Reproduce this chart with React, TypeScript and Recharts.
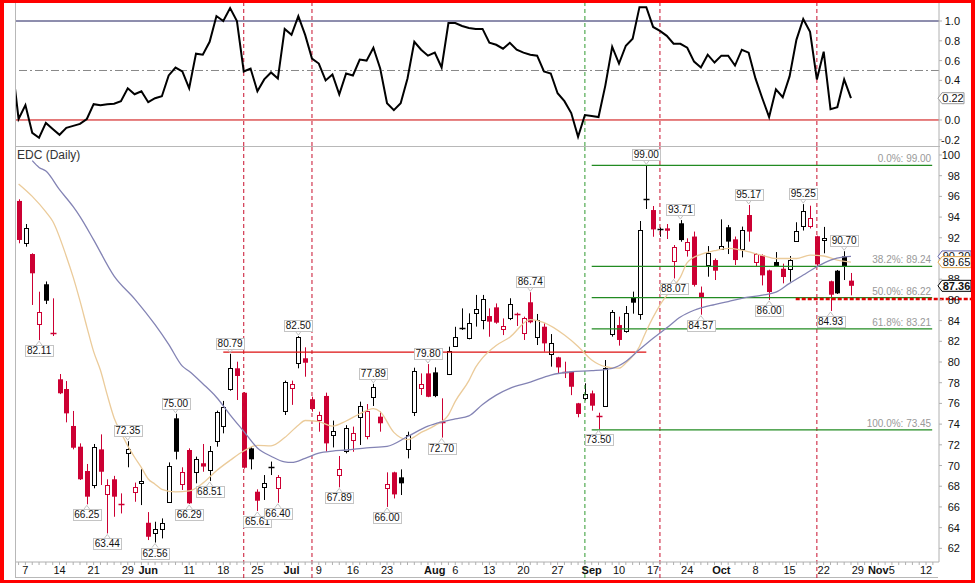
import React from "react";
import {
  ComposedChart,
  Line,
  Bar,
  XAxis,
  YAxis,
  ReferenceLine,
  ReferenceDot,
} from "recharts";

const RED = "#CC0033";
const FONT = "'Liberation Sans', Arial, sans-serif";

// x axis is the trading-day index, 0 = Fri 4 May 2012
const X_MIN = -0.38;
const X_MAX = 134.9;

const opens = [
  95.56, 91.47, 90.43, 83.74, 87.51, 82.85, 78.33, 77.39, 73.82, 71.82,
  69.47, 68.09, 71.56, 67.22, 68.67, 66.3, 71.17, 67.47, 68.3, 64.47,
  63.45, 63.92, 66.5, 74.56, 68.28, 71.5, 69.35, 70.22, 69.57, 72.3,
  73.82, 77.39, 79.39, 77.03, 71.66, 67.47, 67.89, 69.75, 67.8, 75.27,
  77.46, 79.95, 80.36, 76.4, 74.4, 76.72, 73.02, 69.08, 71.41, 72.47,
  74.72, 72.85, 76.56, 74.72, 67.79, 69.34, 68.86, 71.56, 75.2, 77.46,
  78.9, 79.0, 74.25, 78.9, 81.6, 83.2, 82.38, 84.7, 84.0, 84.44,
  85.28, 83.16, 84.21, 84.6, 82.77, 85.77, 82.38, 83.41, 80.77, 80.45,
  79.0, 79.06, 76.01, 76.49, 76.97, 74.75, 75.78, 82.77, 83.57, 83.03,
  86.21, 84.67, 95.6, 94.68, 92.78, 92.91, 89.75, 93.4, 90.82, 92.12,
  86.7, 89.43, 89.85, 90.98, 93.02, 91.85, 90.89, 94.2, 89.66, 90.3,
  88.85, 89.66, 89.01, 88.95, 91.73, 93.15, 93.1, 92.15, 91.82, 87.8,
  88.82, 90.21, 87.86,
];
const highs = [
  95.72, 93.33, 90.5, 86.79, 87.78, 86.15, 78.84, 78.16, 75.27, 72.14,
  70.15, 72.08, 73.01, 68.67, 69.0, 67.31, 72.35, 68.35, 69.64, 65.5,
  64.57, 64.89, 70.3, 75.0, 69.83, 71.66, 70.86, 72.08, 71.88, 75.3,
  76.24, 80.79, 80.03, 77.1, 71.75, 67.7, 69.08, 70.38, 69.08, 78.2,
  78.2, 82.5, 81.42, 76.65, 75.2, 77.04, 74.34, 70.92, 73.9, 73.76,
  76.17, 75.94, 77.89, 75.21, 69.34, 69.4, 69.63, 73.27, 79.45, 78.9,
  79.8, 79.48, 76.49, 81.48, 83.4, 85.18, 84.7, 86.48, 86.48, 85.18,
  85.66, 84.21, 86.16, 84.77, 84.38, 86.74, 84.64, 83.74, 82.7, 80.5,
  80.03, 79.1, 76.05, 77.94, 77.24, 75.1, 80.19, 85.02, 84.38, 85.41,
  86.8, 93.62, 99.0, 95.07, 93.0, 93.33, 91.3, 93.71, 91.95, 92.6,
  87.29, 91.2, 90.0, 93.78, 93.24, 92.12, 93.08, 95.17, 90.53, 90.4,
  88.92, 90.62, 89.5, 90.24, 93.5, 95.25, 95.1, 92.2, 93.05, 87.86,
  88.89, 90.7, 88.6,
];
const lows = [
  91.47, 91.14, 85.51, 82.11, 85.6, 82.51, 76.9, 74.17, 71.56, 68.6,
  66.25, 67.8, 68.12, 63.44, 65.05, 65.37, 69.83, 66.5, 66.18, 62.8,
  62.56, 62.96, 66.45, 70.59, 67.64, 66.29, 68.28, 69.4, 68.51, 71.82,
  73.11, 77.23, 76.33, 69.7, 69.63, 65.61, 66.67, 69.08, 66.4, 74.88,
  75.86, 79.39, 78.58, 75.2, 73.27, 71.34, 71.75, 67.89, 71.18, 71.33,
  71.98, 72.53, 75.75, 73.27, 66.0, 66.82, 67.15, 70.69, 74.78, 76.81,
  76.6, 76.6, 72.7, 78.74, 81.55, 83.09, 82.19, 83.42, 83.16, 82.44,
  83.7, 82.6, 84.05, 83.48, 82.13, 83.74, 81.64, 81.0, 79.55, 78.9,
  78.45, 76.8, 74.66, 76.3, 75.3, 73.5, 75.75, 82.45, 81.58, 82.83,
  84.67, 84.09, 94.78, 92.1, 92.1, 91.88, 88.07, 91.62, 90.18, 87.29,
  84.57, 88.24, 87.92, 90.82, 90.43, 89.37, 90.11, 91.63, 89.18, 87.4,
  86.0, 89.18, 87.6, 87.76, 91.6, 92.7, 92.9, 89.27, 90.5, 84.93,
  86.57, 87.92, 86.44,
];
const closes = [
  91.79, 92.92, 88.57, 84.86, 85.92, 82.7, 76.98, 75.04, 71.72, 68.67,
  66.99, 71.76, 69.4, 68.12, 66.99, 66.15, 71.56, 67.96, 68.5, 63.12,
  63.86, 64.47, 69.99, 71.33, 69.4, 66.35, 70.63, 69.9, 71.4, 75.14,
  75.62, 79.39, 78.65, 69.79, 70.6, 66.6, 68.28, 69.82, 68.86, 78.1,
  77.85, 82.45, 79.93, 75.46, 74.88, 72.14, 73.37, 69.63, 73.6, 73.11,
  75.78, 75.3, 77.56, 74.08, 68.18, 67.21, 68.28, 72.95, 79.16, 77.84,
  76.64, 76.71, 74.15, 81.09, 82.44, 83.25, 83.8, 85.09, 86.06, 83.9,
  83.8, 83.48, 85.57, 84.5, 84.22, 83.84, 84.06, 81.8, 81.87, 79.48,
  78.95, 77.61, 74.98, 76.88, 75.78, 74.65, 79.45, 84.86, 82.13, 84.77,
  85.73, 92.75, 95.7, 92.81, 92.82, 92.68, 91.14, 91.78, 91.63, 87.45,
  86.25, 90.56, 88.82, 91.24, 91.63, 89.85, 92.76, 92.6, 90.4, 88.37,
  86.76, 89.24, 88.21, 89.85, 92.7, 94.57, 93.9, 89.43, 91.99, 86.5,
  86.63, 89.18, 87.36,
];

// oscillator, first value belongs to index -1 (just off the left edge)
const oscillator = [
  0.6,
  0.01, 0.15, -0.13, -0.18, -0.03, -0.09, -0.15, -0.08, -0.06, -0.04,
  0.01, 0.16, 0.15, 0.16, 0.165, 0.19, 0.32, 0.26, 0.29, 0.18,
  0.22, 0.24, 0.45, 0.53, 0.49, 0.32, 0.67, 0.66, 0.79, 1.05,
  1.0, 1.13, 1.0, 0.49, 0.52, 0.29, 0.41, 0.48, 0.42, 0.92,
  0.86, 1.05, 0.86, 0.62, 0.57, 0.4, 0.46, 0.26, 0.47, 0.45,
  0.61, 0.6, 0.73, 0.52, 0.17, 0.1, 0.17, 0.42, 0.79, 0.71,
  0.65, 0.68, 0.53, 0.98, 0.98, 0.95, 0.93, 0.92, 0.92, 0.78,
  0.76, 0.72, 0.78, 0.71, 0.68, 0.66, 0.65, 0.49, 0.47, 0.27,
  0.19, 0.07, -0.17, 0.05, 0.04, 0.03, 0.35, 0.74, 0.57, 0.75,
  0.82, 1.14, 1.14, 0.94, 0.9, 0.85, 0.77, 0.77, 0.73, 0.59,
  0.53, 0.66, 0.58, 0.65, 0.65, 0.55, 0.71, 0.68, 0.42, 0.22,
  0.03, 0.31, 0.23, 0.44, 0.81, 1.02, 0.89, 0.41, 0.69, 0.11,
  0.13, 0.41, 0.22,
];

// moving averages, read at some days: [day, value]
const maFastPoints: [number, number][] = [
  [0, 97.2], [2, 96.0], [4, 94.5], [5, 93.6], [7, 90.2], [8, 88.2], [9, 85.9],
  [10, 83.4], [11, 81.0], [12, 79.2], [13, 76.8], [14, 74.6], [15, 73.2],
  [16, 71.9], [17, 70.8], [18, 69.8], [19, 68.7], [20, 68.2], [21, 67.7],
  [23, 67.45], [25, 67.55], [27, 68.3], [29, 69.5], [31, 70.5], [33, 71.4],
  [35, 71.95], [37, 71.9], [39, 72.7], [41, 73.9], [42, 74.35], [44, 74.25],
  [46, 73.8], [48, 74.3], [50, 75.0], [52, 75.5], [53, 75.2], [55, 73.2],
  [57, 72.5], [59, 73.2], [61, 73.85], [63, 74.9], [64, 76.2], [66, 78.2],
  [67, 79.5], [68, 80.4], [70, 81.6], [72, 82.4], [75, 84.1], [77, 83.8],
  [80, 82.6], [82, 81.5], [84, 80.2], [86, 79.55], [88, 79.4], [89, 79.9],
  [91, 81.5], [92, 83.0], [94, 85.5], [96, 87.3], [97, 88.2], [98, 89.6],
  [100, 90.4], [102, 90.75], [104, 90.98], [106, 90.8], [109, 90.3],
  [111, 90.0], [114, 90.0], [116, 90.33], [118, 90.24], [120, 89.85],
  [122, 89.65],
];
const maSlowPoints: [number, number][] = [
  [2, 99.45], [3, 98.8], [4, 98.45], [6, 96.65], [8, 95.0], [9, 94.05],
  [11, 91.8], [14, 88.3], [17, 86.1], [20, 83.6], [22, 81.7], [24, 79.6],
  [25, 79.1], [27, 77.9], [29, 76.6], [31, 74.9], [33, 73.3], [35, 71.7],
  [37, 70.9], [39, 70.35], [40, 70.3], [42, 70.7], [44, 71.2], [46, 71.4],
  [48, 71.5], [51, 71.7], [54, 71.85], [57, 72.8], [60, 73.8], [62, 74.2],
  [64, 74.5], [66, 74.8], [68, 75.9], [70, 76.8], [72, 77.45], [75, 78.05],
  [78, 78.74], [81, 79.06], [84, 79.16], [87, 79.39], [89, 80.05], [91, 81.2],
  [93, 82.3], [95, 83.3], [97, 84.35], [99, 85.0], [102, 85.55], [104, 85.83],
  [106, 86.15], [109, 86.45], [111, 86.75], [113, 87.6], [115, 88.4],
  [117, 89.2], [119, 89.85], [121, 90.15], [122, 90.2],
];

const tickDays = [1, 6, 11, 16, 19, 25, 30, 35, 40, 44, 49, 54, 61, 64, 69, 74, 79, 84, 88, 93, 98, 103, 108, 113, 118, 123, 126, 128, 133];
const tickLabels = ["7", "14", "21", "29", "Jun", "11", "18", "25", "Jul", "9", "16", "23", "Aug", "6", "13", "20", "27", "Sep", "10", "17", "24", "Oct", "8", "15", "22", "29", "Nov", "5", "12"];

// 90 and 0.2 sit fully behind the value tags, so they are left out
const priceTicks = [62, 64, 66, 68, 70, 72, 74, 76, 78, 80, 82, 84, 86, 88, 92, 94, 96, 98, 100];
const oscTicks = [-0.2, 0, 0.4, 0.6, 0.8, 1.0];

const redMarkers = [33, 43, 94, 117];
const greenMarkers = [83];

const fibLevels = [99.0, 89.24, 86.22, 83.21, 73.45];
const fibNames = ["0.0%", "38.2%", "50.0%", "61.8%", "100.0%"];

const noteDays = [3, 31, 41, 10, 13, 16, 20, 23, 25, 28, 35, 38, 47, 52, 54, 60, 62, 75, 85, 92, 97, 96, 100, 107, 110, 115, 121, 119];
const noteValues = [82.11, 80.79, 82.5, 66.25, 63.44, 72.35, 62.56, 75.0, 66.29, 68.51, 65.61, 66.4, 67.89, 77.89, 66.0, 79.8, 72.7, 86.74, 73.5, 99.0, 93.71, 88.07, 84.57, 95.17, 86.0, 95.25, 90.7, 84.93];
const noteBelow = [true, false, false, true, true, false, true, false, true, true, true, true, true, false, true, false, true, false, true, false, false, true, true, false, true, false, false, true];

const fastMap = new Map(maFastPoints);
const slowMap = new Map(maSlowPoints);
const rows = closes.map((c, i) => ({
  i,
  o: opens[i],
  h: highs[i],
  l: lows[i],
  c,
  pc: i > 0 ? closes[i - 1] : null,
  fast: fastMap.has(i) ? fastMap.get(i) : null,
  slow: slowMap.has(i) ? slowMap.get(i) : null,
}));
const oscRows = oscillator.map((v, k) => ({ i: k - 1, v }));
const allDays = Array.from({ length: 135 }, (_, k) => k);
const labelOf = new Map(tickDays.map((d, k) => [d, tickLabels[k]]));

const Candle = (props: any) => {
  const { x = 0, y = 0, width = 0, height = 0, payload } = props;
  if (!payload) return null;
  const { o, h, l, c, pc } = payload;
  const top = Math.min(y, y + height);
  const span = Math.abs(height);
  const py = (v: number) => top + ((h - v) / (h - l)) * span;
  const cx = Math.round(x + width / 2) + 0.5;
  const color = pc != null && c > pc ? "#000" : RED;
  const hollow = c > o;
  const bTop = py(Math.max(o, c));
  const bH = py(Math.min(o, c)) - bTop;
  let body;
  if (bH < 1.6) {
    body = <line x1={cx - 3} x2={cx + 3} y1={Math.round(bTop) + 0.5} y2={Math.round(bTop) + 0.5} stroke={color} strokeWidth={1.5} />;
  } else if (hollow) {
    body = <rect x={cx - 2} y={Math.round(bTop) + 0.5} width={4} height={Math.round(bH)} fill="#fff" stroke={color} strokeWidth={1} />;
  } else {
    body = <rect x={cx - 2.5} y={bTop} width={5} height={bH} fill={color} />;
  }
  return (
    <g>
      <line x1={cx} x2={cx} y1={py(h)} y2={py(l)} stroke={color} strokeWidth={1} />
      {body}
    </g>
  );
};

const DayTick = (props: any) => {
  const { x, y, payload } = props;
  const label = labelOf.get(payload.value);
  if (!label) return null;
  const bold = isNaN(Number(label));
  return (
    <text x={x} y={y + 7} textAnchor="middle" fontSize={11} fontWeight={bold ? "bold" : "normal"} fill="#111">
      {label}
    </text>
  );
};

const PriceTick = (props: any) => {
  const { x, y, payload } = props;
  return (
    <text x={x + 16} y={y + 4} textAnchor="end" fontSize={11} fill="#111">
      {payload.value}
    </text>
  );
};

const OscTick = (props: any) => {
  const { x, y, payload } = props;
  return (
    <text x={x + 16} y={y + 4} textAnchor="end" fontSize={11} fill="#111">
      {Number(payload.value).toFixed(1)}
    </text>
  );
};

const Note = ({ cx, cy, text, below }: any) => {
  const w = 28;
  const h = 11;
  const gap = 5;
  const top = below ? cy + gap : cy - gap - h;
  const edge = below ? top : top + h;
  const tip = below ? cy + 1 : cy - 1;
  const left = Math.round(cx - w / 2) + 0.5;
  return (
    <g>
      <rect x={left} y={Math.round(top) + 0.5} width={w} height={h} fill="#fff" stroke="#c4c4c4" />
      <path d={`M${cx - 3},${edge} L${cx},${tip} L${cx + 3},${edge}`} fill="none" stroke="#c4c4c4" />
      <text x={cx} y={top + 9} textAnchor="middle" fontSize={10} fill="#111">
        {text}
      </text>
    </g>
  );
};

const FibText = ({ cx, cy, text }: any) => (
  <text x={cx - 1} y={cy - 3} textAnchor="end" fontSize={10} fill="#999">
    {text}
  </text>
);

const Tag = ({ cx, cy, text, border, bold, w }: any) => (
  <g>
    <path
      d={`M${cx - 1},${cy} L${cx + 3},${cy - 5.5} L${cx + w},${cy - 5.5} L${cx + w},${cy + 5.5} L${cx + 3},${cy + 5.5} Z`}
      fill="#fff"
      stroke={border}
    />
    <text x={cx + 3 + (w - 3) / 2} y={cy + 4} textAnchor="middle" fontSize={11} fontWeight={bold ? "bold" : "normal"} fill="#111">
      {text}
    </text>
  </g>
);

const dashRed = "#C8102E";
const dashGreen = "#2E9A2E";

const lastSlow = maSlowPoints[maSlowPoints.length - 1][1];
const lastFast = maFastPoints[maFastPoints.length - 1][1];
const lastClose = closes[closes.length - 1];
const lastOsc = oscillator[oscillator.length - 1];

const layer: React.CSSProperties = { position: "absolute", left: 0 };

const App = () => {
  return (
    <div
      style={{
        position: "absolute",
        left: 0,
        top: 0,
        width: 975,
        height: 583,
        background: "#fff",
        overflow: "hidden",
        fontFamily: FONT,
      }}
    >
      {/* frame lines */}
      <div style={{ position: "absolute", left: 15, top: 3, width: 1, height: 574, background: "#b8b8b8" }} />
      <div style={{ position: "absolute", left: 15, top: 146, width: 925, height: 1, background: "#b8b8b8" }} />
      <div style={{ position: "absolute", left: 15, top: 577, width: 923, height: 1, background: "#b8b8b8" }} />

      {/* oscillator panel */}
      <div style={{ ...layer, top: 0 }}>
        <ComposedChart width={975} height={147} data={oscRows} margin={{ top: 3, right: 0, bottom: 1, left: 16 }}>
          <XAxis dataKey="i" type="number" domain={[X_MIN, X_MAX]} allowDataOverflow hide />
          <YAxis
            orientation="right"
            domain={[-0.263, 1.182]}
            allowDataOverflow
            ticks={oscTicks}
            interval={0}
            width={36}
            tick={<OscTick />}
            tickSize={3}
            axisLine={{ stroke: "#b0b0b0" }}
            tickLine={{ stroke: "#b0b0b0" }}
          />
          <ReferenceLine y={1} stroke="#1c1c5c" />
          <ReferenceLine y={0.5} stroke="#888" strokeDasharray="8 3 2 3" />
          <ReferenceLine y={0} stroke="#CC0000" />
          {redMarkers.map((d) => (
            <ReferenceLine key={d} x={d} stroke={dashRed} strokeDasharray="4 3" />
          ))}
          {greenMarkers.map((d) => (
            <ReferenceLine key={d} x={d} stroke={dashGreen} strokeDasharray="4 3" />
          ))}
          <Line dataKey="v" type="linear" stroke="#000" strokeWidth={2} dot={false} isAnimationActive={false} />
        </ComposedChart>
      </div>

      {/* price panel */}
      <div style={{ ...layer, top: 147 }}>
        <ComposedChart width={975} height={436} data={rows} margin={{ top: 0, right: 0, bottom: 0, left: 16 }}>
          <XAxis
            dataKey="i"
            type="number"
            domain={[X_MIN, X_MAX]}
            allowDataOverflow
            ticks={allDays}
            interval={0}
            tick={<DayTick />}
            tickSize={3}
            height={21}
            axisLine={{ stroke: "#b0b0b0" }}
            tickLine={{ stroke: "#b0b0b0" }}
          />
          <YAxis
            orientation="right"
            domain={[60.68, 100.77]}
            allowDataOverflow
            ticks={priceTicks}
            interval={0}
            width={36}
            tick={<PriceTick />}
            tickSize={3}
            axisLine={{ stroke: "#b0b0b0" }}
            tickLine={{ stroke: "#b0b0b0" }}
          />
          {redMarkers.map((d) => (
            <ReferenceLine
              key={d}
              segment={[{ x: d, y: 100.77 }, { x: d, y: 58.6 }]}
              ifOverflow="visible"
              stroke={dashRed}
              strokeDasharray="4 3"
            />
          ))}
          {greenMarkers.map((d) => (
            <ReferenceLine
              key={d}
              segment={[{ x: d, y: 100.77 }, { x: d, y: 58.6 }]}
              ifOverflow="visible"
              stroke={dashGreen}
              strokeDasharray="4 3"
            />
          ))}
          <ReferenceLine segment={[{ x: 30, y: 80.95 }, { x: 92, y: 80.95 }]} stroke="#DD1111" strokeWidth={1.2} />
          {fibLevels.map((v) => (
            <ReferenceLine key={v} segment={[{ x: 84, y: v }, { x: 133.9, y: v }]} stroke="#228B22" strokeWidth={1.2} />
          ))}
          <Line dataKey="fast" type="monotone" connectNulls stroke="#EBCB9A" strokeWidth={1.3} dot={false} isAnimationActive={false} />
          <Line dataKey="slow" type="monotone" connectNulls stroke="#8383B4" strokeWidth={1.3} dot={false} isAnimationActive={false} />
          <Bar dataKey={(r: any) => [r.l, r.h]} barSize={5} shape={<Candle />} isAnimationActive={false} />
          <ReferenceLine
            segment={[{ x: 113.9, y: 86.09 }, { x: 140, y: 86.09 }]}
            ifOverflow="visible"
            stroke="#E00000"
            strokeWidth={2.5}
            strokeDasharray="4 2"
          />
          {fibLevels.map((v, k) => (
            <ReferenceDot
              key={"f" + v}
              x={133.9}
              y={v}
              shape={(p: any) => <FibText {...p} text={`${fibNames[k]}: ${v.toFixed(2)}`} />}
            />
          ))}
          {noteDays.map((d, k) => (
            <ReferenceDot
              key={"n" + k}
              x={d}
              y={noteValues[k]}
              ifOverflow="visible"
              shape={(p: any) => <Note {...p} text={noteValues[k].toFixed(2)} below={noteBelow[k]} />}
            />
          ))}
        </ComposedChart>
      </div>

      {/* value tags, drawn above the axes */}
      <div style={{ ...layer, top: 0, pointerEvents: "none" }}>
        <ComposedChart width={975} height={147} data={oscRows} margin={{ top: 3, right: 36, bottom: 1, left: 16 }}>
          <XAxis dataKey="i" type="number" domain={[X_MIN, X_MAX]} allowDataOverflow hide />
          <YAxis domain={[-0.263, 1.182]} allowDataOverflow hide />
          <ReferenceDot
            x={X_MAX}
            y={lastOsc}
            ifOverflow="visible"
            shape={(p: any) => <Tag {...p} text={lastOsc.toFixed(2)} border="#999" w={25} />}
          />
        </ComposedChart>
      </div>
      <div style={{ ...layer, top: 147, pointerEvents: "none" }}>
        <ComposedChart width={975} height={436} data={rows} margin={{ top: 0, right: 36, bottom: 21, left: 16 }}>
          <XAxis dataKey="i" type="number" domain={[X_MIN, X_MAX]} allowDataOverflow hide />
          <YAxis domain={[60.68, 100.77]} allowDataOverflow hide />
          <ReferenceDot
            x={X_MAX}
            y={lastSlow}
            ifOverflow="visible"
            shape={(p: any) => <Tag {...p} text={lastSlow.toFixed(2)} border="#6666AA" w={32} />}
          />
          <ReferenceDot
            x={X_MAX}
            y={lastFast}
            ifOverflow="visible"
            shape={(p: any) => <Tag {...p} text={lastFast.toFixed(2)} border="#E0A850" w={32} />}
          />
          <ReferenceDot
            x={X_MAX}
            y={lastClose}
            ifOverflow="visible"
            shape={(p: any) => <Tag {...p} text={lastClose.toFixed(2)} border="#000" bold w={32} />}
          />
        </ComposedChart>
      </div>

      <div style={{ position: "absolute", left: 17, top: 148, fontSize: 12, color: "#333" }}>EDC (Daily)</div>

      {/* outer red frame */}
      <div
        style={{
          position: "absolute",
          left: 0,
          top: 0,
          width: 975,
          height: 583,
          boxSizing: "border-box",
          borderStyle: "solid",
          borderColor: "#FF0000",
          borderWidth: "3px 4px 3px 4px",
          pointerEvents: "none",
        }}
      />
    </div>
  );
};

export default App;
